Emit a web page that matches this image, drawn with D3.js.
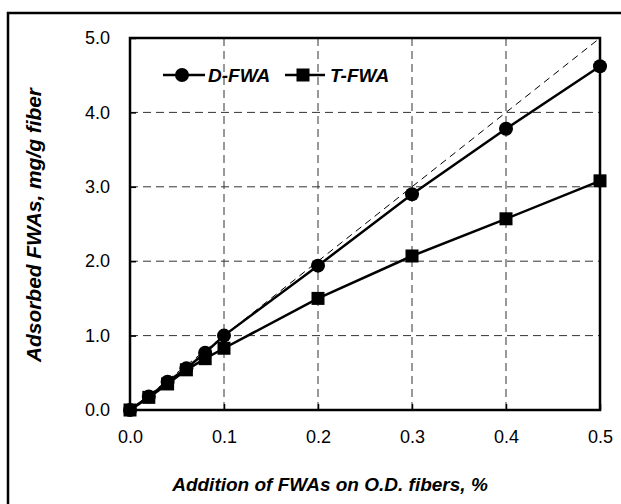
<!DOCTYPE html>
<html>
<head>
<meta charset="utf-8">
<script src="https://cdn.jsdelivr.net/npm/d3@7"></script>
<style>
  html, body { margin: 0; padding: 0; background: #fff; }
  svg { display: block; }
  text { font-family: "Liberation Sans", Arial, sans-serif; fill: #000; }
</style>
</head>
<body>
<svg id="chart" width="621" height="504"></svg>
<script>
// Addition level of FWAs (%) and the amount adsorbed (mg/g fiber)
const additions = [0, 0.02, 0.04, 0.06, 0.08, 0.1, 0.2, 0.3, 0.4, 0.5];
const dFWA = [0, 0.18, 0.38, 0.56, 0.77, 1.0, 1.94, 2.90, 3.78, 4.62];
const tFWA = [0, 0.17, 0.35, 0.54, 0.69, 0.83, 1.50, 2.07, 2.57, 3.08];
const seriesNames = ["D-FWA", "T-FWA"];
const xTicks = [0, 0.1, 0.2, 0.3, 0.4, 0.5];
const yTicks = [0, 1, 2, 3, 4, 5];
const xTitle = "Addition of FWAs on O.D. fibers, %";
const yTitle = "Adsorbed FWAs, mg/g fiber";

const svg = d3.select("#chart");
const plot = { left: 130, top: 38, right: 600, bottom: 410 };

const x = d3.scaleLinear().domain([0, 0.5]).range([plot.left, plot.right]);
const y = d3.scaleLinear().domain([0, 5]).range([plot.bottom, plot.top]);

// outer frame (only left and top edges fall inside the canvas)
svg.append("rect")
  .attr("x", 8).attr("y", 13).attr("width", 640).attr("height", 520)
  .attr("fill", "none").attr("stroke", "#000").attr("stroke-width", 2.5);

// dashed gridlines
const grid = svg.append("g").attr("stroke", "#333").attr("stroke-width", 1)
  .attr("stroke-dasharray", "8,5");
grid.selectAll("line.gx").data(xTicks.filter(d => d > 0 && d < 0.5)).join("line")
  .attr("x1", d => x(d)).attr("x2", d => x(d))
  .attr("y1", plot.bottom).attr("y2", plot.top);
grid.selectAll("line.gy").data(yTicks.filter(d => d > 0 && d < 5)).join("line")
  .attr("y1", d => y(d)).attr("y2", d => y(d))
  .attr("x1", plot.left).attr("x2", plot.right);

// 1:1 reference line (full adsorption)
svg.append("line")
  .attr("x1", x(0)).attr("y1", y(0)).attr("x2", x(0.5)).attr("y2", y(5))
  .attr("stroke", "#000").attr("stroke-width", 1).attr("stroke-dasharray", "7,5");

// axes with inward ticks
const xAxis = d3.axisBottom(x).tickValues(xTicks).tickSize(-6).tickPadding(20)
  .tickFormat(d3.format(".1f"));
const yAxis = d3.axisLeft(y).tickValues(yTicks).tickSize(-6).tickPadding(20)
  .tickFormat(d3.format(".1f"));

const gx = svg.append("g").attr("transform", `translate(0,${plot.bottom})`).call(xAxis);
const gy = svg.append("g").attr("transform", `translate(${plot.left},0)`).call(yAxis);
[gx, gy].forEach(g => {
  g.select(".domain").remove();
  g.selectAll(".tick line").attr("stroke", "#000").attr("stroke-width", 1.5);
  g.selectAll(".tick text").attr("font-size", 18)
    .attr("font-family", "'Liberation Sans', Arial, sans-serif").attr("fill", "#000");
});
gx.selectAll(".tick text").attr("dy", "0.71em");

// plot border
svg.append("rect")
  .attr("x", plot.left).attr("y", plot.top)
  .attr("width", plot.right - plot.left).attr("height", plot.bottom - plot.top)
  .attr("fill", "none").attr("stroke", "#000").attr("stroke-width", 2.5);

// series
const line = d3.line().x(d => x(d[0])).y(d => y(d[1]));
const dPts = additions.map((a, i) => [a, dFWA[i]]);
const tPts = additions.map((a, i) => [a, tFWA[i]]);

svg.append("path").datum(tPts).attr("d", line)
  .attr("fill", "none").attr("stroke", "#000").attr("stroke-width", 2.5);
svg.append("path").datum(dPts).attr("d", line)
  .attr("fill", "none").attr("stroke", "#000").attr("stroke-width", 2.5);

const sq = 13;
svg.append("g").selectAll("rect").data(tPts).join("rect")
  .attr("x", d => x(d[0]) - sq / 2).attr("y", d => y(d[1]) - sq / 2)
  .attr("width", sq).attr("height", sq).attr("fill", "#000");
svg.append("g").selectAll("circle").data(dPts).join("circle")
  .attr("cx", d => x(d[0])).attr("cy", d => y(d[1])).attr("r", 7).attr("fill", "#000");

// legend
const lg = svg.append("g").attr("transform", "translate(0,75)");
lg.append("line").attr("x1", 163).attr("x2", 205).attr("stroke", "#000").attr("stroke-width", 2.5);
lg.append("circle").attr("cx", 182).attr("r", 7).attr("fill", "#000");
lg.append("text").attr("x", 208).attr("dy", "0.35em").attr("font-size", 19)
  .attr("font-weight", "bold").attr("font-style", "italic").text(seriesNames[0]);
lg.append("line").attr("x1", 285).attr("x2", 325).attr("stroke", "#000").attr("stroke-width", 2.5);
lg.append("rect").attr("x", 303 - sq / 2).attr("y", -sq / 2).attr("width", sq).attr("height", sq).attr("fill", "#000");
lg.append("text").attr("x", 330).attr("dy", "0.35em").attr("font-size", 19)
  .attr("font-weight", "bold").attr("font-style", "italic").text(seriesNames[1]);

// axis titles
svg.append("text").attr("x", (plot.left + plot.right) / 2 - 35).attr("y", 491)
  .attr("text-anchor", "middle").attr("font-size", 19)
  .attr("font-weight", "bold").attr("font-style", "italic").text(xTitle);
svg.append("text").attr("transform", `translate(41,225) rotate(-90)`)
  .attr("text-anchor", "middle").attr("font-size", 19.5)
  .attr("textLength", 274).attr("lengthAdjust", "spacingAndGlyphs")
  .attr("font-weight", "bold").attr("font-style", "italic").text(yTitle);
</script>
</body>
</html>
